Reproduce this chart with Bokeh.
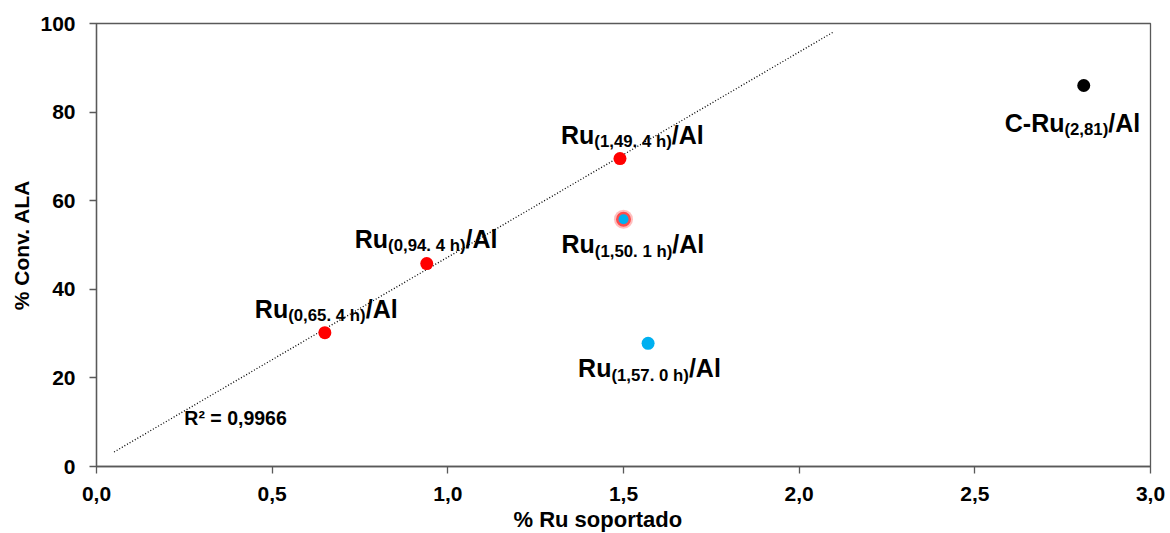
from bokeh.plotting import figure
from bokeh.models import ColumnDataSource, FixedTicker, CustomJSTickFormatter, Label, Title
from bokeh.core.properties import value
from bokeh.embed import file_html
from bokeh.resources import INLINE
import numpy as np

# Ru loading (%) and ALA conversion (%) per catalyst series
ru_4h = [0.65, 0.94, 1.49]
conv_4h = [30.2, 45.8, 69.5]
ru_1h = [1.50]
conv_1h = [55.8]
ru_0h = [1.57]
conv_0h = [27.8]
ru_c = [2.81]
conv_c = [86.0]

# point labels: main text, subscript, suffix
label_x = [0.65, 0.94, 1.49, 1.50, 1.57, 2.81]
label_y = [30.2, 45.8, 69.5, 55.8, 27.8, 86.0]
label_main = ["Ru", "Ru", "Ru", "Ru", "Ru", "C-Ru"]
label_sub = ["(0,65. 4 h)", "(0,94. 4 h)", "(1,49. 4 h)", "(1,50. 1 h)", "(1,57. 0 h)", "(2,81)"]
label_tail = ["/Al"] * 6
# pixel offsets of each label's baseline start relative to its point
label_dx = [-70, -72, -59, -62, -70, -79]
label_dy = [-24, -25, -24, 25, 25, 37]

x_ticks = [0.0, 0.5, 1.0, 1.5, 2.0, 2.5, 3.0]
y_ticks = [0, 20, 40, 60, 80, 100]
trend_x = [0.05, 2.1]
r2_text = "R² = 0,9966"

FONT = "Liberation Sans"
MAIN_PX = 25
SUB_PX = 16.8
AXIS_PX = "21px"

# Arial/Liberation Sans Bold advance widths (per 1000 em)
ADV = {" ": 278, "(": 333, ")": 333, ",": 278, ".": 278, "-": 333, "/": 278,
       "A": 722, "C": 722, "R": 722, "l": 278, "u": 611, "h": 611}
for d in "0123456789":
    ADV[d] = 556


def text_width(s, px):
    return sum(ADV.get(c, 556) for c in s) * px / 1000.0


p = figure(width=1170, height=533, x_range=(0, 3), y_range=(0, 100),
           output_backend="svg", toolbar_location=None,
           min_border_left=96, min_border_right=20,
           min_border_top=23, min_border_bottom=67)
p.background_fill_color = "white"
p.border_fill_color = "white"
p.outline_line_color = "#595959"
p.outline_line_width = 1.3
p.grid.visible = False

for ax in (p.xaxis[0], p.yaxis[0]):
    ax.axis_line_color = "#595959"
    ax.axis_line_width = 1.3
    ax.major_tick_line_color = "#595959"
    ax.major_tick_line_width = 1.3
    ax.major_tick_out = 7
    ax.major_tick_in = 0
    ax.minor_tick_line_color = None
    ax.major_label_text_font = FONT
    ax.major_label_text_font_style = "bold"
    ax.major_label_text_font_size = AXIS_PX
    ax.major_label_text_color = "black"
    ax.axis_label_text_font = FONT
    ax.axis_label_text_font_style = "bold"
    ax.axis_label_text_font_size = AXIS_PX
    ax.axis_label_text_color = "black"

p.xaxis.ticker = FixedTicker(ticks=x_ticks)
p.yaxis.ticker = FixedTicker(ticks=y_ticks)
p.xaxis.formatter = CustomJSTickFormatter(code="return tick.toFixed(1).replace('.', ',');")
p.yaxis.axis_label = "% Conv. ALA"
p.xaxis.major_label_standoff = 13
p.yaxis.major_label_standoff = 14
p.yaxis.axis_label_standoff = 4

# x-axis title, placed a little left of the frame centre
p.add_layout(Title(text="% Ru soportado", align="left", offset=417, standoff=2,
                   text_font=FONT, text_font_style="bold", text_font_size="22px",
                   text_color="black"), "below")

# linear trend through the 4 h series
slope, intercept = np.polyfit(ru_4h, conv_4h, 1)
trend_y = [slope * x + intercept for x in trend_x]
p.line(trend_x, trend_y, line_color="black", line_width=1.3, line_dash="1 2")

# markers
p.scatter(ru_4h, conv_4h, size=13, fill_color="#FF0000", line_color=None)
p.scatter(ru_1h, conv_1h, size=19, fill_color="#FF0000", fill_alpha=0.25, line_color=None)
p.scatter(ru_1h, conv_1h, size=15, fill_color="#FF0000", fill_alpha=0.6, line_color=None)
p.scatter(ru_1h, conv_1h, size=10, fill_color="#00B0F0", line_color=None)
p.scatter(ru_0h, conv_0h, size=13, fill_color="#00B0F0", line_color=None)
p.scatter(ru_c, conv_c, size=13, fill_color="black", line_color=None)

# labels with subscripts, assembled from three text runs
main_off = []
sub_off = []
tail_off = []
for m, s, dx in zip(label_main, label_sub, label_dx):
    main_off.append(dx)
    sub_off.append(dx + text_width(m, MAIN_PX))
    tail_off.append(dx + text_width(m, MAIN_PX) + text_width(s, SUB_PX))

src = ColumnDataSource(dict(
    x=label_x, y=label_y, main=label_main, sub=label_sub, tail=label_tail,
    mo=main_off, so=sub_off, to=tail_off,
    dy=label_dy, sdy=[d + 7 for d in label_dy]))

common = dict(text_font=value(FONT), text_font_style="bold", text_color="black",
              text_align="left", text_baseline="alphabetic", source=src)
p.text(x="x", y="y", text="main", x_offset="mo", y_offset="dy",
       text_font_size=f"{MAIN_PX}px", **common)
p.text(x="x", y="y", text="sub", x_offset="so", y_offset="sdy",
       text_font_size=f"{SUB_PX}px", **common)
p.text(x="x", y="y", text="tail", x_offset="to", y_offset="dy",
       text_font_size=f"{MAIN_PX}px", **common)

# R² annotation below the trend line
p.add_layout(Label(x=0.25, y=10.9, text=r2_text, text_font=FONT, text_font_style="bold",
                   text_font_size="19.5px", text_color="black", text_baseline="alphabetic"))

open("out.html", "w").write(file_html(p, INLINE))
